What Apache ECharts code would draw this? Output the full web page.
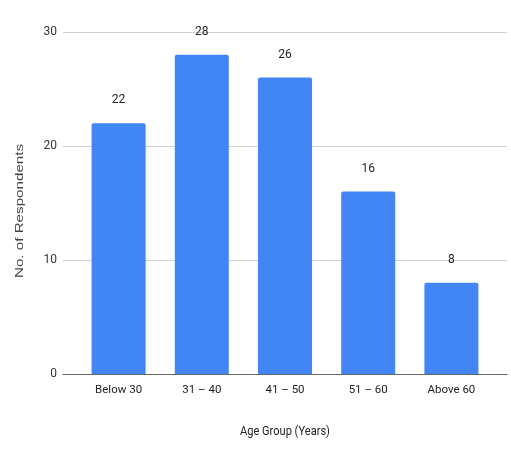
<!DOCTYPE html>
<html><head><meta charset="utf-8">
<script src="https://cdn.jsdelivr.net/npm/echarts@6/dist/echarts.min.js"></script>
<style>html,body{margin:0;padding:0;background:#fff}#c{width:511px;height:451px}</style>
</head><body><div id="c"></div>
<script>
const categories = ['Below 30', '31 – 40', '41 – 50', '51 – 60', 'Above 60'];
const respondents = [22, 28, 26, 16, 8];
const yTicks = [0, 10, 20, 30];
const xTitle = 'Age Group (Years)';
const yTitle = 'No. of Respondents';

const narrow = 'Roboto,sans-serif';
const chart = echarts.init(document.getElementById('c'), null, {renderer: 'canvas'});
chart.setOption({
  animation: false,
  backgroundColor: '#fff',
  grid: [
    {left: 63, right: 4, top: 32, bottom: 77},
    {left: 77, right: 18, top: 32, bottom: 77}
  ],
  graphic: [
    {type: 'text', x: 20, y: 211, rotation: Math.PI / 2, scaleX: 1.38,
     style: {text: yTitle, font: '11px "Liberation Sans",Arial,sans-serif', fill: '#444', align: 'center', verticalAlign: 'middle'}},
    {type: 'text', x: 285, y: 432, scaleX: 0.85,
     style: {text: xTitle, font: '13px Roboto,sans-serif', fill: '#222', align: 'center', verticalAlign: 'middle'}}
  ],
  xAxis: [
    {gridIndex: 0, type: 'value', min: 0, max: 1, axisLine: {show: true, lineStyle: {color: '#666', width: 1}},
     axisTick: {show: false}, axisLabel: {show: false}, splitLine: {show: false}},
    {gridIndex: 1, type: 'category', data: categories, axisLine: {show: false}, axisTick: {show: false},
     axisLabel: {fontFamily: narrow, fontSize: 11.5, color: '#222', margin: 10}}
  ],
  yAxis: [
    {gridIndex: 0, type: 'value', min: yTicks[0], max: yTicks[yTicks.length - 1], interval: 10,
     axisLine: {show: false}, axisTick: {show: false},
     axisLabel: {fontFamily: narrow, fontSize: 12, color: '#333', margin: 6},
     splitLine: {lineStyle: {color: '#d0d0d0', width: 1}}},
    {gridIndex: 1, type: 'value', min: 0, max: 30, show: false}
  ],
  series: [{
    type: 'bar', xAxisIndex: 1, yAxisIndex: 1,
    data: respondents, barWidth: 54,
    itemStyle: {color: '#4285F4', borderRadius: [2, 2, 0, 0]},
    label: {show: true, position: 'top', distance: 17, fontFamily: narrow, fontSize: 12, color: '#222'}
  }]
});
</script></body></html>
